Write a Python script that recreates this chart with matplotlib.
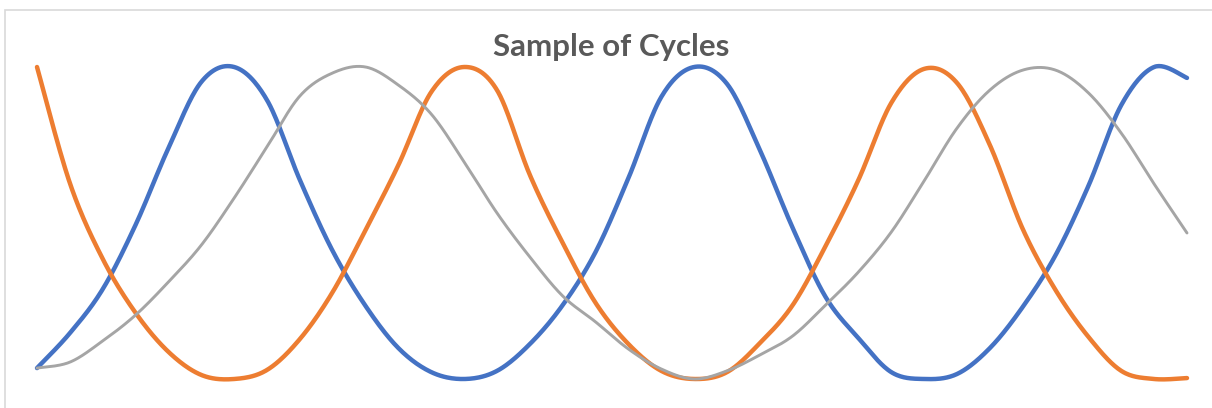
import numpy as np
import matplotlib
matplotlib.use('Agg')
from matplotlib import pyplot as plt
from matplotlib.patches import Rectangle

# values, one point per period (0..35)
periods = list(range(36))

blue = [3.5, 14.7, 28.8, 49.4, 74.0, 95.2, 100, 89.4, 63.8, 41.0, 23.4, 9.9,
        2.2, 0, 2.6, 11.2, 23.7, 40.7, 64.4, 90.4, 100, 94.6, 73.4, 48.4,
        26.3, 13.1, 2.2, 0, 1.6, 9.9, 23.1, 39.7, 61.9, 87.8, 100, 96.5]

orange = [100, 62.8, 38.5, 21.2, 8.7, 1.3, 0, 2.9, 12.8, 27.9, 47.8, 68.6,
          92.0, 100, 92.6, 65.4, 43.6, 24.4, 11.2, 2.6, 0, 2.2, 11.5, 23.7,
          42.6, 63.8, 88.5, 99.4, 94.9, 75.0, 48.1, 28.5, 13.5, 2.6, 0, 0.3]

gray = [3.5, 5.4, 12.2, 20.5, 31.1, 42.9, 58.0, 74.4, 90.7, 98.1, 100, 94.2,
        84.9, 69.6, 53.2, 39.1, 26.6, 18.3, 9.6, 3.2, 0, 2.6, 7.7, 13.8,
        23.7, 34.3, 47.1, 63.5, 80.4, 92.6, 99.0, 99.0, 91.7, 78.8, 62.5, 46.8]

title = 'Sample of Cycles'


def smooth(x, y, steps=30):
    """
    Excel style smoothed line: cubic bezier segments with catmull-rom handles.
    """
    x = np.asarray(x, float)
    y = np.asarray(y, float)
    px = np.concatenate([[x[0]], x, [x[-1]]])
    py = np.concatenate([[y[0]], y, [y[-1]]])
    t = np.linspace(0, 1, steps)[:, None]
    xs, ys = [], []
    for i in range(1, len(px) - 2):
        p0 = np.array([px[i], py[i]])
        p3 = np.array([px[i + 1], py[i + 1]])
        c1 = p0 + (p3 - np.array([px[i - 1], py[i - 1]])) / 6
        c2 = p3 - (np.array([px[i + 2], py[i + 2]]) - p0) / 6
        seg = ((1 - t) ** 3) * p0 + 3 * ((1 - t) ** 2) * t * c1 + 3 * (1 - t) * t ** 2 * c2 + t ** 3 * p3
        xs.append(seg[:, 0])
        ys.append(seg[:, 1])
    return np.concatenate(xs), np.concatenate(ys)


W, H = 1212, 408
fig = plt.figure(figsize=(W / 100, H / 100), dpi=100)

# chart frame (cropped on the right and bottom)
fig.patches.append(Rectangle((5 / W, -0.1), 1.2, 1 - 10 / H + 0.1, transform=fig.transFigure,
                             fill=False, edgecolor='#D9D9D9', linewidth=1.2))

ax = fig.add_axes([37 / W, 1 - 379 / H, 1150 / W, 312 / H])
ax.set_xlim(periods[0], periods[-1])
ax.set_ylim(0, 100)
ax.axis('off')

for vals, col, lw in [(blue, '#4472C4', 3.2), (orange, '#ED7D31', 3.2), (gray, '#A5A5A5', 2.1)]:
    sx, sy = smooth(periods, vals)
    ax.plot(sx, sy, color=col, linewidth=lw, solid_capstyle='round', solid_joinstyle='round', clip_on=False)

fig.text(611 / W, 1 - 47 / H, title, ha='center', va='center', fontsize=22.5,
         fontweight='bold', color='#595959', family=['Lato', 'DejaVu Sans'])

fig.savefig('out.png', dpi=100)
